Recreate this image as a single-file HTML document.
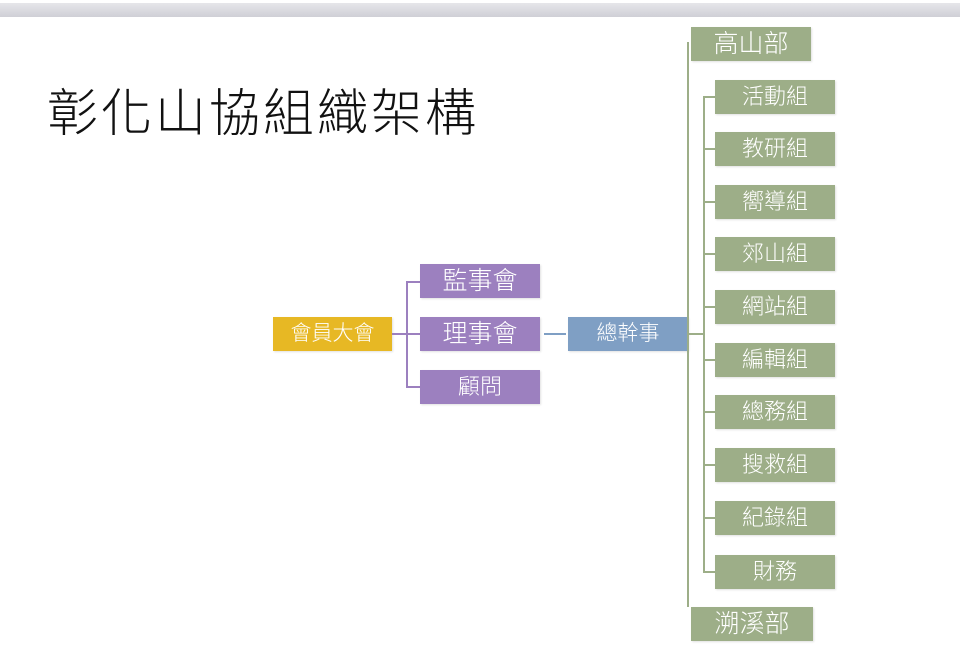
<!DOCTYPE html>
<html><head><meta charset="utf-8"><style>
body{margin:0;width:960px;height:666px;background:#fff;position:relative;overflow:hidden;font-family:"Liberation Sans","Noto Sans CJK TC",sans-serif}
.bar{position:absolute;left:0;top:3px;width:960px;height:14px;background:linear-gradient(#e6e6ea,#cfcfd6)}
.b{position:absolute;color:#fff;text-align:center;box-shadow:1px 1px 2px rgba(0,0,0,.12);font-weight:300}
.g{background:#9dae88;width:120px;height:34px;line-height:34px;font-size:22px}
.p{background:#9c80bf;width:120px;height:34px;line-height:34px;font-size:25px}
.l{position:absolute;background:#9dae88}
.lp{position:absolute;background:#9c80bf}
.t{position:absolute;left:47px;top:72px;font-size:51px;font-weight:300;color:#111;letter-spacing:3px}
</style></head><body>
<div class="bar"></div>
<div class="t">彰化山協組織架構</div>

<div class="b" style="left:273px;top:317px;width:119px;height:34px;line-height:34px;font-size:21px;background:#e7b824">會員大會</div>
<div class="lp" style="left:392px;top:333px;width:15px;height:2px"></div>
<div class="lp" style="left:406px;top:281px;width:2px;height:107px"></div>
<div class="lp" style="left:406px;top:281px;width:14px;height:2px"></div>
<div class="lp" style="left:406px;top:333px;width:14px;height:2px"></div>
<div class="lp" style="left:406px;top:386px;width:14px;height:2px"></div>
<div class="b p" style="left:420px;top:264px">監事會</div>
<div class="b p" style="left:420px;top:317px">理事會</div>
<div class="b p" style="left:420px;top:370px;font-size:22px">顧問</div>
<div class="l" style="left:544px;top:333px;width:22px;height:2px;background:#7f9fc4"></div>
<div class="b" style="left:568px;top:317px;width:120px;height:34px;line-height:34px;font-size:21px;background:#7f9fc4">總幹事</div>

<div class="l" style="left:687px;top:42px;width:2px;height:565px"></div>
<div class="l" style="left:687px;top:333px;width:17px;height:2px"></div>
<div class="l" style="left:703px;top:96px;width:2px;height:477px"></div>
<div class="b g" style="left:691px;top:27px;font-size:25px">高山部</div>
<div class="b g" style="left:691px;top:607px;width:122px;font-size:25px">溯溪部</div>

<div class="l" style="left:703px;top:96px;width:12px;height:2px"></div><div class="b g" style="left:715px;top:80px">活動組</div>
<div class="l" style="left:703px;top:148px;width:12px;height:2px"></div><div class="b g" style="left:715px;top:132px">教研組</div>
<div class="l" style="left:703px;top:201px;width:12px;height:2px"></div><div class="b g" style="left:715px;top:185px">嚮導組</div>
<div class="l" style="left:703px;top:253px;width:12px;height:2px"></div><div class="b g" style="left:715px;top:237px">郊山組</div>
<div class="l" style="left:703px;top:306px;width:12px;height:2px"></div><div class="b g" style="left:715px;top:290px">網站組</div>
<div class="l" style="left:703px;top:359px;width:12px;height:2px"></div><div class="b g" style="left:715px;top:343px">編輯組</div>
<div class="l" style="left:703px;top:411px;width:12px;height:2px"></div><div class="b g" style="left:715px;top:395px">總務組</div>
<div class="l" style="left:703px;top:464px;width:12px;height:2px"></div><div class="b g" style="left:715px;top:448px">搜救組</div>
<div class="l" style="left:703px;top:517px;width:12px;height:2px"></div><div class="b g" style="left:715px;top:501px">紀錄組</div>
<div class="l" style="left:703px;top:571px;width:12px;height:2px"></div><div class="b g" style="left:715px;top:555px">財務</div>
</body></html>
